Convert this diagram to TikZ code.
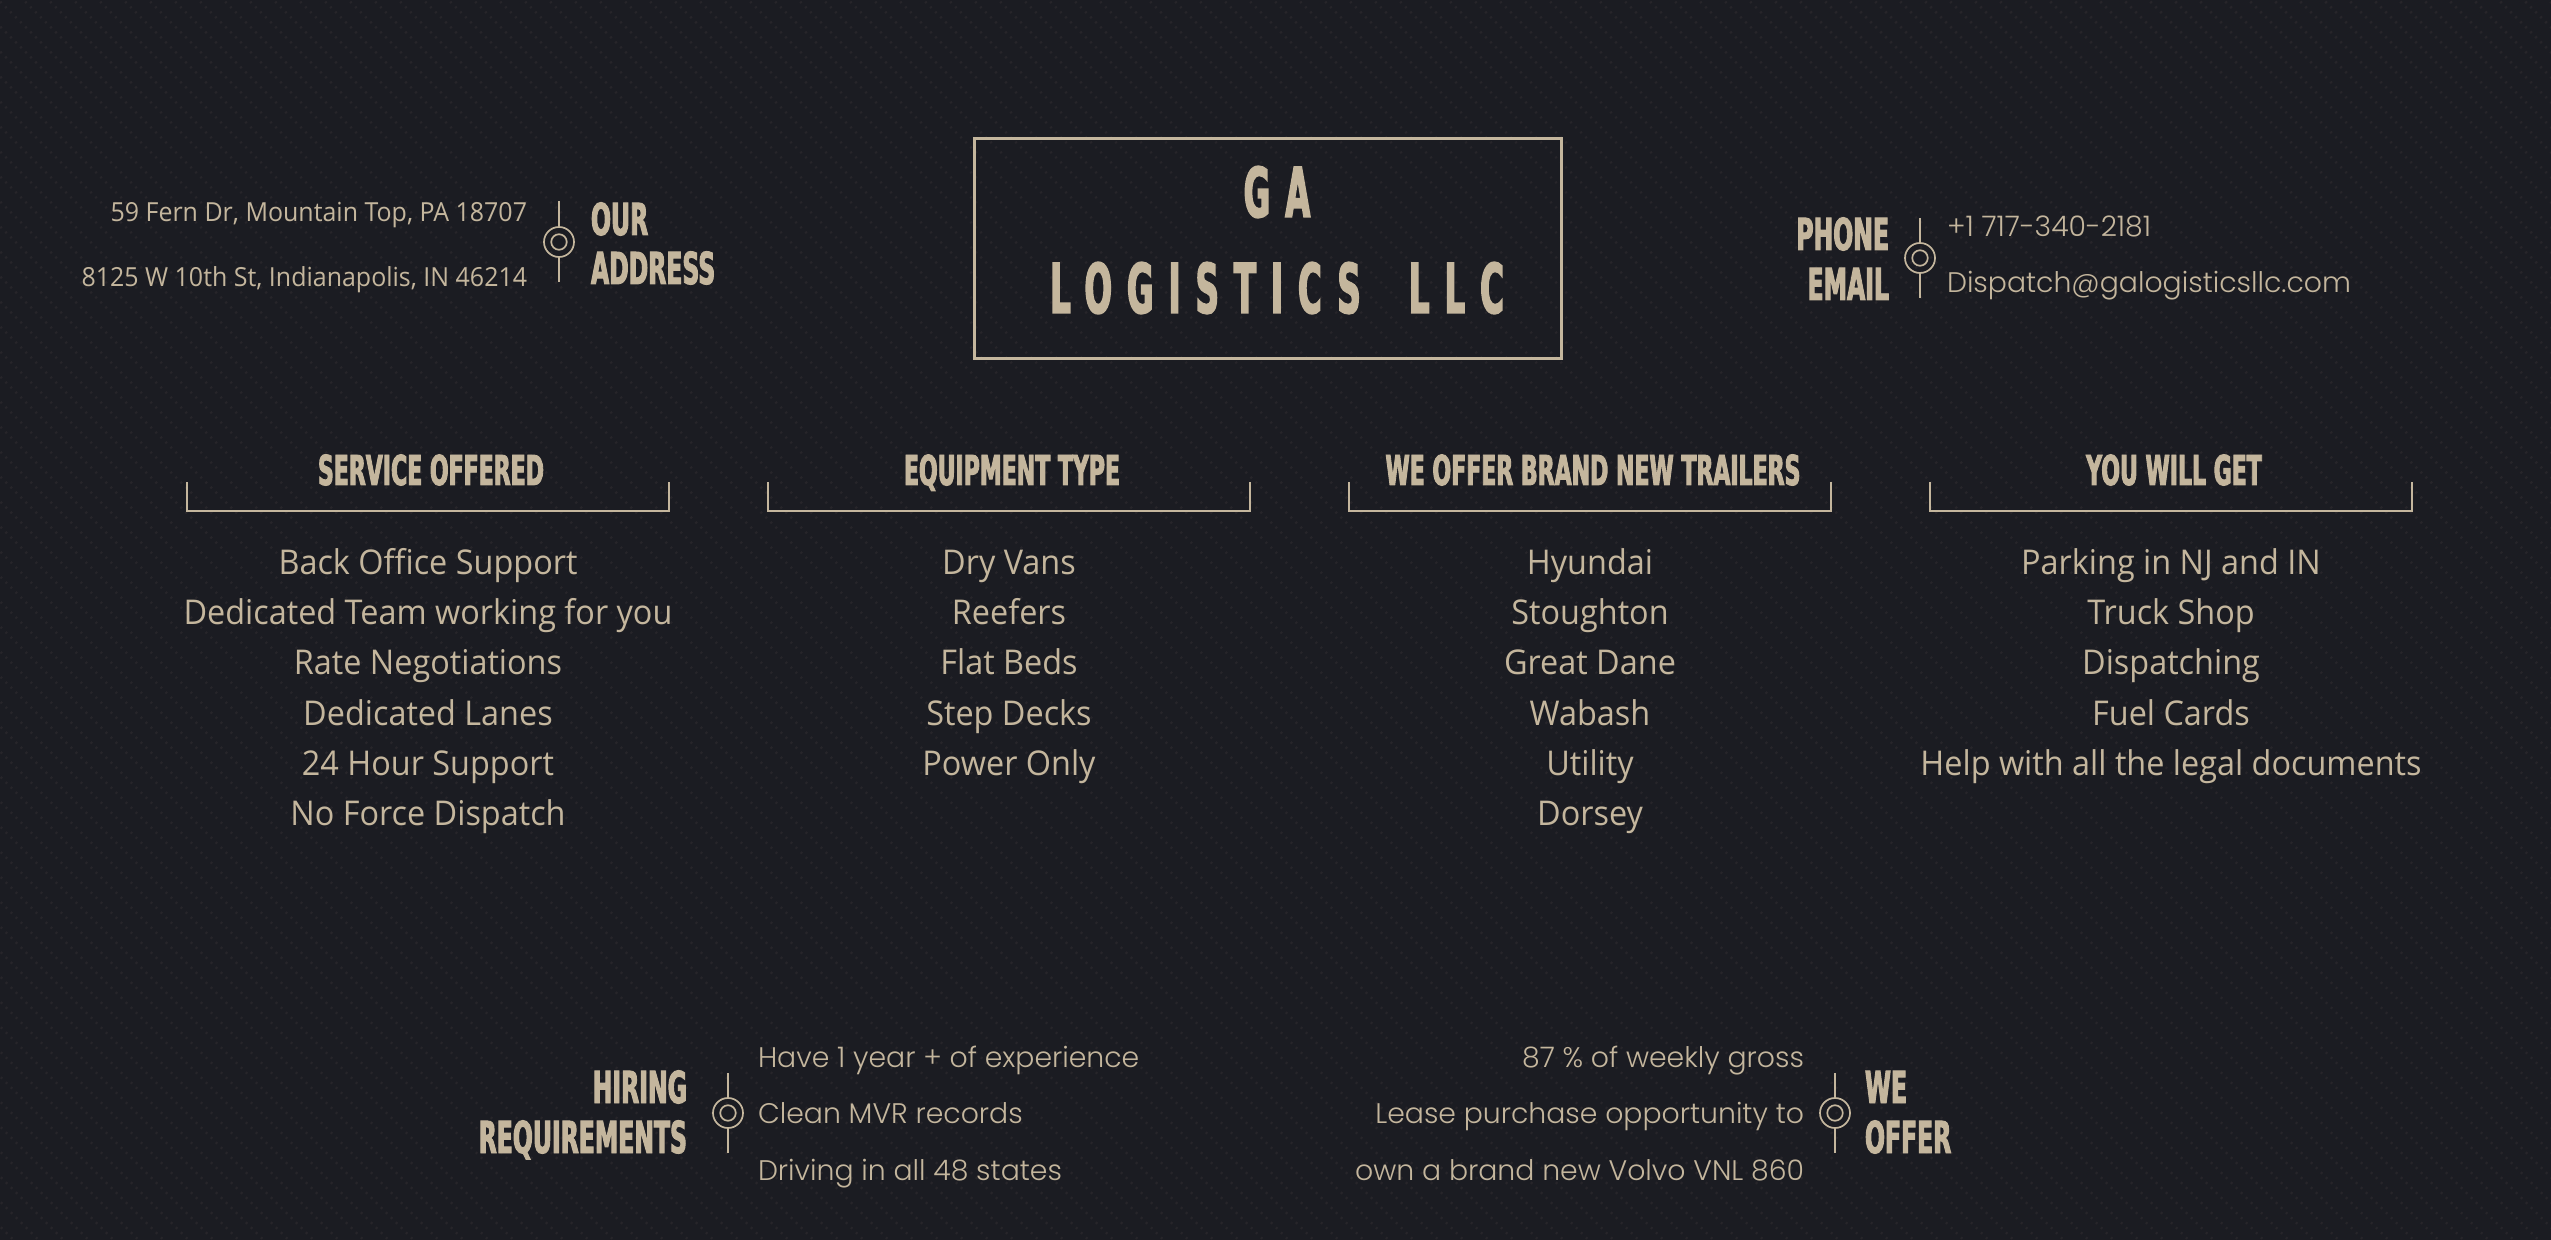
\documentclass[tikz,border=0pt]{standalone}
\usepackage{fontspec}
\setmainfont{Open Sans}
\newfontfamily\bodyfont[FakeStretch=0.95]{Open Sans}
\newfontfamily\lightfont{Poppins Light}
\newfontfamily\headfont[FakeStretch=0.535,FakeBold=2.2]{DejaVu Sans Bold}
\newfontfamily\titlefont[FakeStretch=0.47,FakeBold=2.2,LetterSpace=22]{DejaVu Sans Bold}
\definecolor{ink}{HTML}{1B1C22}
\definecolor{sand}{HTML}{C4B69D}
\definecolor{fleck}{HTML}{27252A}

\begin{document}
\begin{tikzpicture}[x=0.01cm,y=-0.01cm,
   txt/.style={text=sand,inner sep=0pt,outer sep=0pt},
   addr/.style={txt,anchor=base east,font=\bodyfont\fontsize{7.47pt}{9pt}\selectfont},
   item/.style={txt,anchor=base,font=\bodyfont\fontsize{9.7pt}{12pt}\selectfont},
   thin text/.style={txt,font=\lightfont\fontsize{8.05pt}{10pt}\selectfont},
   label/.style={txt,font=\headfont\fontsize{12.5pt}{14pt}\selectfont},
   colhead/.style={txt,anchor=base,font=\headfont\fontsize{11.7pt}{14pt}\selectfont},
   title/.style={txt,anchor=base,font=\titlefont\fontsize{19.5pt}{22pt}\selectfont},
   ring/.style={circle,draw=sand,line width=0.017cm,minimum size=0.3cm,inner sep=0pt},
   core/.style={circle,draw=sand,line width=0.017cm,minimum size=0.155cm,inner sep=0pt},
   tick/.style={draw=sand,line width=0.017cm},
   bracket/.style={draw=sand,line width=0.028cm}
    ]
  \useasboundingbox (0,0) rectangle (2551,1240);
  \fill[ink] (0,0) rectangle (2551,1240);

  % -- faint flecks of the backdrop
  \foreach \d in {-1254.7,-1229.7,...,2570.3}
    \draw[fleck,line width=0.025cm,dash pattern=on 0.02cm off 0.0507cm] (\d,-3.4) -- (\d+1245,1241.6);

  % -- logo
  \node[draw=sand,line width=0.03cm,minimum width=5.87cm,minimum height=2.2cm,inner sep=0pt] (logo) at (1268,248.5) {};
  \node[title] (ga) at (1277,217) {GA};
  \node[title] (llc) at (1277,313) {LOGISTICS\hspace{0.22cm} LLC};

  % -- address
  \node[addr] (addr1) at (527,222) {59 Fern Dr, Mountain Top, PA 18707};
  \node[addr] (addr2) at (527,287) {8125 W 10th St, Indianapolis, IN 46214};
  \node[ring] (addrring) at (559,242) {};
  \node[core] (addrcore) at (addrring) {};
  \coordinate (addrtop) at (559,201);
  \coordinate (addrbot) at (559,282);
  \draw[tick] (addrtop) -- (addrring);
  \draw[tick] (addrring) -- (addrbot);
  \node[label,anchor=base west] (our) at (591,235) {OUR};
  \node[label,anchor=base west] (address) at (591,284) {ADDRESS};

  % -- phone and mail
  \node[label,anchor=base east] (phone) at (1889,250) {PHONE};
  \node[label,anchor=base east] (email) at (1889,300) {EMAIL};
  \node[ring] (mailring) at (1920,258) {};
  \node[core] (mailcore) at (mailring) {};
  \coordinate (mailtop) at (1920,218);
  \coordinate (mailbot) at (1920,298);
  \draw[tick] (mailtop) -- (mailring);
  \draw[tick] (mailring) -- (mailbot);
  \node[thin text,anchor=base west] (tel) at (1947,237) {+1 717-340-2181};
  \node[thin text,anchor=base west] (mail) at (1947,293) {Dispatch@galogisticsllc.com};

  % -- service column
  \node[colhead] (svchead) at (431,485) {SERVICE OFFERED};
  \coordinate (svcl) at (187,482);
  \coordinate (svcr) at (669,482);
  \draw[bracket] (svcl) -- ++(0,29) -| (svcr);
  \node[item] (svc1) at (428,575) {Back Office Support};
  \node[item] (svc2) at (428,625) {Dedicated Team working for you};
  \node[item] (svc3) at (428,675) {Rate Negotiations};
  \node[item] (svc4) at (428,726) {Dedicated Lanes};
  \node[item] (svc5) at (428,776) {24 Hour Support};
  \node[item] (svc6) at (428,826) {No Force Dispatch};

  % -- equipment column
  \node[colhead] (eqphead) at (1012,485) {EQUIPMENT TYPE};
  \coordinate (eqpl) at (768,482);
  \coordinate (eqpr) at (1250,482);
  \draw[bracket] (eqpl) -- ++(0,29) -| (eqpr);
  \node[item] (eqp1) at (1009,575) {Dry Vans};
  \node[item] (eqp2) at (1009,625) {Reefers};
  \node[item] (eqp3) at (1009,675) {Flat Beds};
  \node[item] (eqp4) at (1009,726) {Step Decks};
  \node[item] (eqp5) at (1009,776) {Power Only};

  % -- trailer column
  \node[colhead] (trlhead) at (1593,485) {WE OFFER BRAND NEW TRAILERS};
  \coordinate (trll) at (1349,482);
  \coordinate (trlr) at (1831,482);
  \draw[bracket] (trll) -- ++(0,29) -| (trlr);
  \node[item] (trl1) at (1590,575) {Hyundai};
  \node[item] (trl2) at (1590,625) {Stoughton};
  \node[item] (trl3) at (1590,675) {Great Dane};
  \node[item] (trl4) at (1590,726) {Wabash};
  \node[item] (trl5) at (1590,776) {Utility};
  \node[item] (trl6) at (1590,826) {Dorsey};

  % -- benefits column
  \node[colhead] (gethead) at (2174,485) {YOU WILL GET};
  \coordinate (getl) at (1930,482);
  \coordinate (getr) at (2412,482);
  \draw[bracket] (getl) -- ++(0,29) -| (getr);
  \node[item] (get1) at (2171,575) {Parking in NJ and IN};
  \node[item] (get2) at (2171,625) {Truck Shop};
  \node[item] (get3) at (2171,675) {Dispatching};
  \node[item] (get4) at (2171,726) {Fuel Cards};
  \node[item] (get5) at (2171,776) {Help with all the legal documents};

  % -- hiring
  \node[label,anchor=base east] (hiring) at (687,1103) {HIRING};
  \node[label,anchor=base east] (reqs) at (687,1153) {REQUIREMENTS};
  \node[ring] (hirering) at (728,1113) {};
  \node[core] (hirecore) at (hirering) {};
  \coordinate (hiretop) at (728,1073);
  \coordinate (hirebot) at (728,1153);
  \draw[tick] (hiretop) -- (hirering);
  \draw[tick] (hirering) -- (hirebot);
  \node[thin text,anchor=base west] (hire1) at (758,1067) {Have 1 year + of experience};
  \node[thin text,anchor=base west] (hire2) at (758,1123) {Clean MVR records};
  \node[thin text,anchor=base west] (hire3) at (758,1180) {Driving in all 48 states};

  % -- offer
  \node[thin text,anchor=base east] (off1) at (1804,1067) {87 \% of weekly gross};
  \node[thin text,anchor=base east] (off2) at (1804,1123) {Lease purchase opportunity to};
  \node[thin text,anchor=base east] (off3) at (1804,1180) {own a brand new Volvo VNL 860};
  \node[ring] (offring) at (1835,1113) {};
  \node[core] (offcore) at (offring) {};
  \coordinate (offtop) at (1835,1073);
  \coordinate (offbot) at (1835,1153);
  \draw[tick] (offtop) -- (offring);
  \draw[tick] (offring) -- (offbot);
  \node[label,anchor=base west] (we) at (1865,1103) {WE};
  \node[label,anchor=base west] (offer) at (1865,1153) {OFFER};

\end{tikzpicture}
\end{document}
